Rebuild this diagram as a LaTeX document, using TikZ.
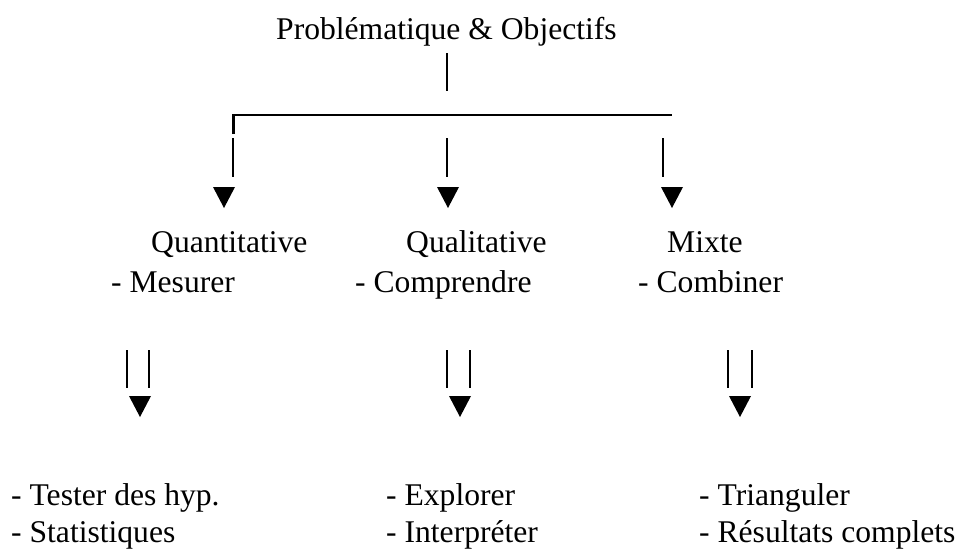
\documentclass[tikz,border=0pt]{standalone}
\usepackage{fontspec}
\setmainfont{Liberation Serif}

\begin{document}
\begin{tikzpicture}[x=1pt,y=-1pt]
    \tikzstyle{every node}=[font=\fontsize{31.6}{38}\selectfont]
    \tikzstyle{lbl}=[anchor=base west,inner sep=0pt]
    \tikzstyle{bar}=[line width=2.7pt]
    \tikzstyle{tip}=[fill=black]
    \useasboundingbox (0,0) rectangle (958,549);
    % title and fork
    \node[lbl] (prob) at (276,39) {Problématique \& Objectifs};
    \coordinate (stemtop) at (447,53);
    \coordinate (stembot) at (447,91);
    \draw[bar] (stemtop) -- (stembot);
    \coordinate (forkl) at (233.5,134);
    \coordinate (forkr) at (672,115);
    \draw[bar] (forkl) |- (forkr);
    % first level
    \coordinate (quanttop) at (233,138);
    \coordinate (quantbot) at (233,177);
    \coordinate (qualtop) at (447,138);
    \coordinate (qualbot) at (447,177);
    \coordinate (mixtop) at (663,138);
    \coordinate (mixbot) at (663,177);
    \draw[bar] (quanttop) -- (quantbot);
    \draw[bar] (qualtop) -- (qualbot);
    \draw[bar] (mixtop) -- (mixbot);
    \fill[tip] (213,187) -- (235,187) -- (224,208) -- cycle;
    \fill[tip] (437,187) -- (459,187) -- (448,208) -- cycle;
    \fill[tip] (661,187) -- (683,187) -- (672,208) -- cycle;
    \node[lbl] (quant) at (151,252) {Quantitative};
    \node[lbl] (quantA) at (111,292) {- Mesurer};
    \node[lbl] (qual) at (406,252) {Qualitative};
    \node[lbl] (qualA) at (355,292) {- Comprendre};
    \node[lbl] (mix) at (667,252) {Mixte};
    \node[lbl] (mixA) at (638,292) {- Combiner};
    % second level
    \coordinate (quantLt) at (127,350);
    \coordinate (quantLb) at (127,388);
    \coordinate (quantRt) at (149,350);
    \coordinate (quantRb) at (149,388);
    \coordinate (qualLt) at (447,350);
    \coordinate (qualLb) at (447,388);
    \coordinate (qualRt) at (470,350);
    \coordinate (qualRb) at (470,388);
    \coordinate (mixLt) at (728,350);
    \coordinate (mixLb) at (728,388);
    \coordinate (mixRt) at (752,350);
    \coordinate (mixRb) at (752,388);
    \draw[bar] (quantLt) -- (quantLb) (quantRt) -- (quantRb);
    \draw[bar] (qualLt) -- (qualLb) (qualRt) -- (qualRb);
    \draw[bar] (mixLt) -- (mixLb) (mixRt) -- (mixRb);
    \fill[tip] (129,396) -- (151,396) -- (140,417) -- cycle;
    \fill[tip] (449,396) -- (471,396) -- (460,417) -- cycle;
    \fill[tip] (729,396) -- (751,396) -- (740,417) -- cycle;
    \node[lbl] (quantB) at (11,505) {- Tester des hyp.};
    \node[lbl] (quantC) at (11,542) {- Statistiques};
    \node[lbl] (qualB) at (386,505) {- Explorer};
    \node[lbl] (qualC) at (386,542) {- Interpréter};
    \node[lbl] (mixB) at (699,505) {- Trianguler};
    \node[lbl] (mixC) at (699,542) {- Résultats complets};
\end{tikzpicture}
\end{document}
